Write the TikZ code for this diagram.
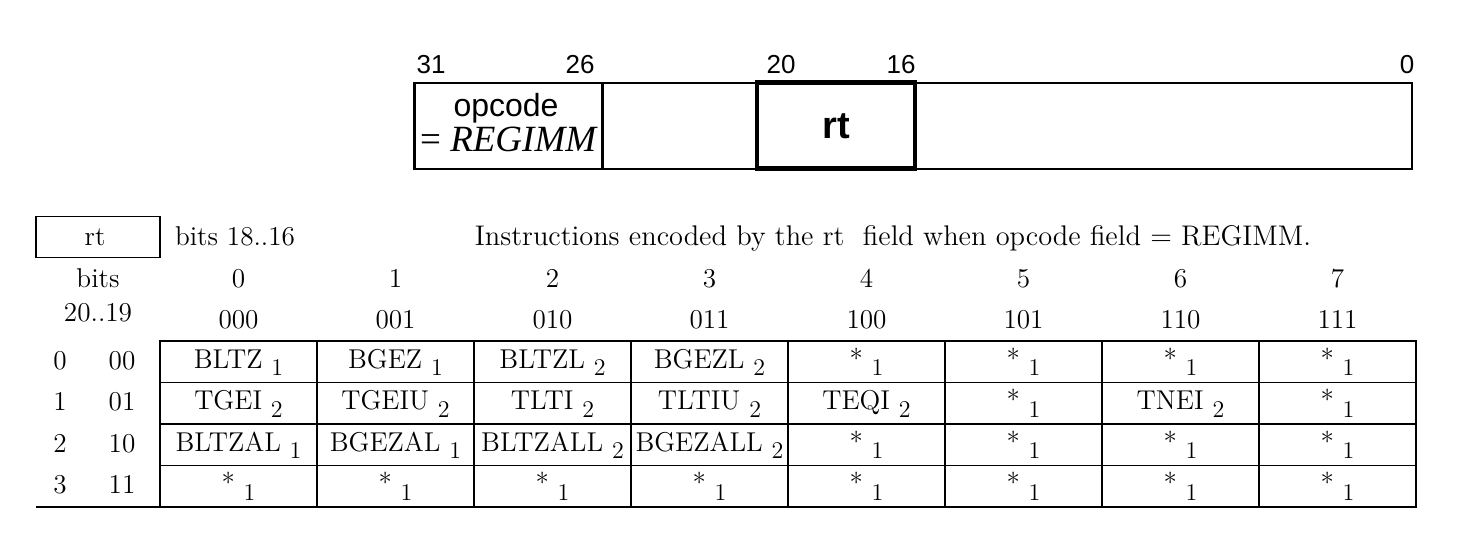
\documentclass[tikz,border=0pt]{standalone}
\usepackage{fontspec}
\newfontfamily\arialf{Liberation Sans}
\newfontfamily\timesf{Liberation Serif}
\newcommand\lowsub[1]{\raisebox{-3.8pt}{\fontsize{12}{14}\selectfont #1}}
\begin{document}
\begin{tikzpicture}[x=0.5pt,y=-0.5pt,
  every node/.style={inner sep=0pt,outer sep=0pt,font=\fontsize{13.6}{16}\selectfont},
  cell/.style={draw,line width=0.75pt,minimum width=78.5pt,minimum height=20.75pt},
  txt/.style={anchor=base},
  bitnum/.style={anchor=base,font=\arialf\fontsize{13}{15}\selectfont},
  tline/.style={line width=0.75pt}]
\useasboundingbox (0,0) rectangle (1457,537);

% ---- register layout ----
\node[draw,line width=0.6pt,minimum width=498.5pt,minimum height=43pt] (reg) at (913.5,126) {};
\node[draw,line width=1.3pt,minimum width=94pt,minimum height=43pt] (opc) at (508.5,126) {};
\node[draw,line width=2.2pt,minimum width=79pt,minimum height=43pt] (rtf) at (836,125.5) {};
\node[bitnum] (b31) at (431,73) {31};
\node[bitnum] (b26) at (580,73) {26};
\node[bitnum] (b20) at (781,73) {20};
\node[bitnum] (b16) at (901,73) {16};
\node[bitnum] (b0) at (1407,73) {0};
\node[anchor=base,font=\arialf\fontsize{16}{18}\selectfont] (opct) at (506,116) {opcode};
\node[anchor=base,font=\timesf\fontsize{18.5}{20}\selectfont] (opcv) at (509,151.5) {= \textit{REGIMM}};
\node[anchor=base,font=\arialf\bfseries\fontsize{19}{21}\selectfont] (rtt) at (836,138) {rt};

% ---- table header ----
\node[draw,line width=0.75pt,minimum width=62pt,minimum height=20.5pt] (rtbox) at (98,237) {};
\node[txt] (rtlab) at (95,245) {rt};
\node[anchor=base west] (b1816) at (175,245) {bits 18..16};
\node[txt,font=\fontsize{14.2}{16}\selectfont] (title) at (893,245) {Instructions encoded by the rt\ \ field when opcode field = REGIMM.};
\node[txt] (bits) at (98,287) {bits};
\node[txt] (b2019) at (98,321) {20..19};
\foreach \d/\b [count=\i from 0] in {0/000,1/001,2/010,3/011,4/100,5/101,6/110,7/111}{
  \node[txt] (hd\i) at (238.5+157*\i,287) {\d};
  \node[txt] (hb\i) at (238.5+157*\i,328) {\b};
}

% ---- row labels ----
\foreach \d/\b [count=\j from 0] in {0/00,1/01,2/10,3/11}{
  \node[txt] (rd\j) at (60,369+41.5*\j) {\d};
  \node[txt] (rb\j) at (122,369+41.5*\j) {\b};
}

% ---- cells ----
\foreach \t [count=\i from 0] in {BLTZ \lowsub{1},BGEZ \lowsub{1},BLTZL \lowsub{2},BGEZL \lowsub{2},* \lowsub{1},* \lowsub{1},* \lowsub{1},* \lowsub{1}}
  \node[cell] (c0-\i) at (238.5+157*\i,361.75) {\strut\t};
\foreach \t [count=\i from 0] in {TGEI \lowsub{2},TGEIU \lowsub{2},TLTI \lowsub{2},TLTIU \lowsub{2},TEQI \lowsub{2},* \lowsub{1},TNEI \lowsub{2},* \lowsub{1}}
  \node[cell] (c1-\i) at (238.5+157*\i,403.25) {\strut\t};
\foreach \t [count=\i from 0] in {BLTZAL \lowsub{1},BGEZAL \lowsub{1},BLTZALL \lowsub{2},BGEZALL \lowsub{2},* \lowsub{1},* \lowsub{1},* \lowsub{1},* \lowsub{1}}
  \node[cell] (c2-\i) at (238.5+157*\i,444.75) {\strut\t};
\foreach \t [count=\i from 0] in {* \lowsub{1},* \lowsub{1},* \lowsub{1},* \lowsub{1},* \lowsub{1},* \lowsub{1},* \lowsub{1},* \lowsub{1}}
  \node[cell] (c3-\i) at (238.5+157*\i,486.25) {\strut\t};

\coordinate (bl) at (36,507);
\draw[tline] (bl) -- (c3-0.south west);
\end{tikzpicture}
\end{document}
